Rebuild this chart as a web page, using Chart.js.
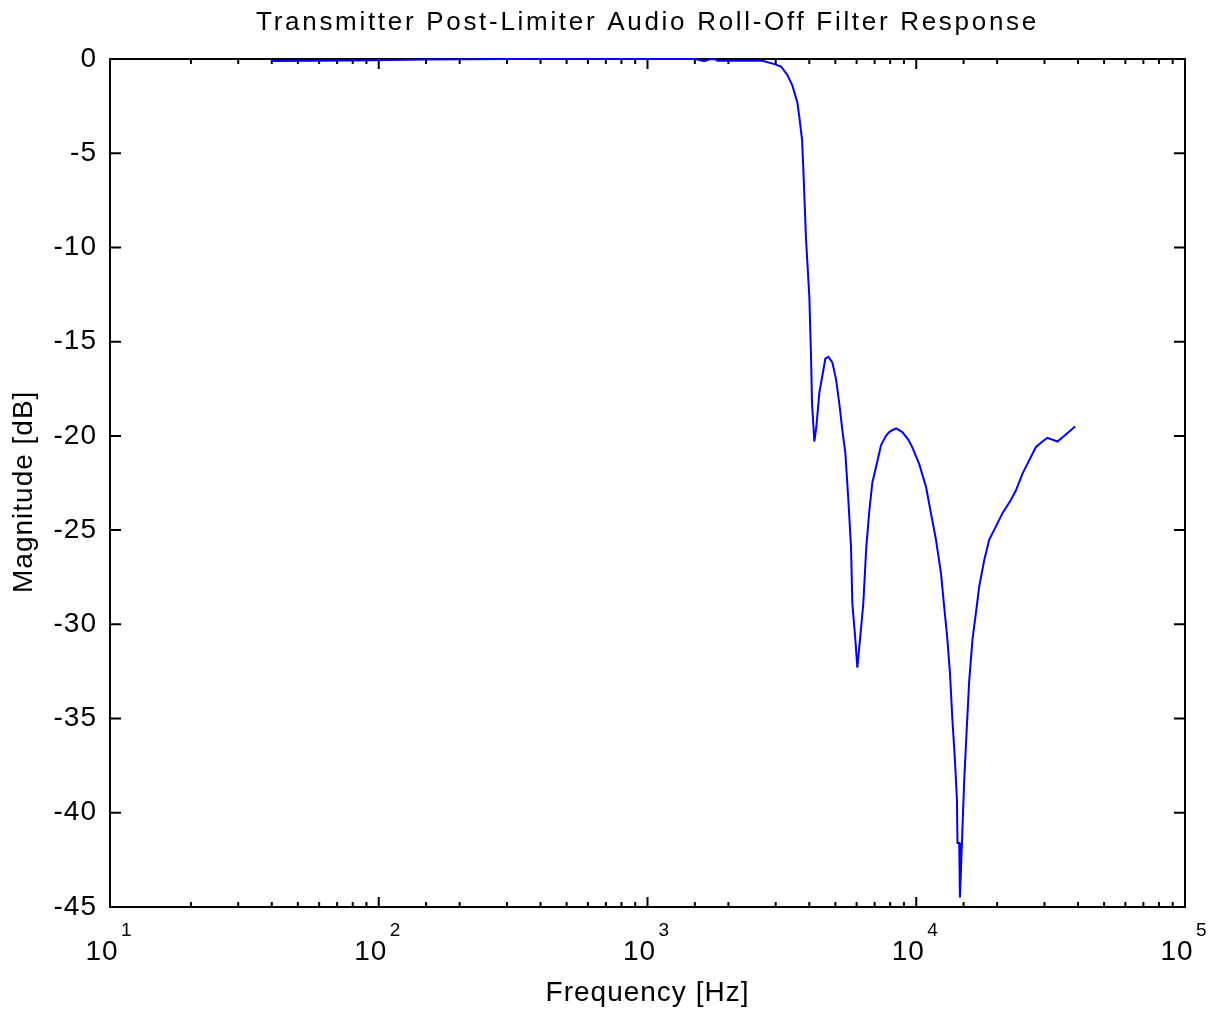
<!DOCTYPE html>
<html>
<head>
    <title>Transmitter Post-Limiter Audio Roll-Off Filter Response</title>
    <style>
        body {
            margin: 0;
            background: #fff;
        }
        #wrap {
            width: 1217px;
            height: 1015px;
        }
    </style>
    <script src="https://cdn.jsdelivr.net/npm/chart.js"></script>
</head>
<body>
    <div id="wrap"><canvas id="filterChart" width="1217" height="1015"></canvas></div>

    <script>
        // values
        const freqHz = [40, 80, 150, 300, 1000, 1500, 1560, 1630, 1700, 1780, 1820, 2200, 2676, 2966,
            3141, 3315, 3459, 3611, 3674, 3760, 3802, 3890, 4001, 4060, 4095, 4177, 4250, 4360,
            4462, 4590, 4710, 4873, 5030, 5174, 5309, 5447, 5589, 5719, 5784, 5934, 6036, 6177,
            6353, 6518, 6687, 6861, 7100, 7393, 7716, 7936, 8143, 8428, 8872, 9339, 9663, 10260,
            10870, 11340, 11840, 12360, 12710, 13040, 13350, 13610, 13930, 14170, 14240, 14450,
            14540, 14790, 15080, 15380, 15740, 16190, 16670, 17150, 17900, 18690, 19790, 20930,
            22490, 23480, 24850, 26310, 27860, 29480, 30770, 33530, 35490, 37590, 39000];
        const magDb = [-0.1, -0.08, -0.03, 0, 0, 0, -0.05, -0.12, -0.02, 0, -0.09, -0.09, -0.09, -0.27,
            -0.4, -0.85, -1.4, -2.3, -3.1, -4.3, -5.9, -9.6, -12.6, -15.8, -18.3, -20.3, -19.5, -17.7,
            -16.9, -15.9, -15.8, -16.1, -17.0, -18.3, -19.7, -20.9, -23.4, -25.9, -28.9, -30.8, -32.3, -30.8,
            -28.9, -25.9, -24.0, -22.5, -21.6, -20.5, -20.0, -19.8, -19.7, -19.6, -19.8, -20.2, -20.6, -21.5,
            -22.7, -24.1, -25.5, -27.3, -29.1, -30.7, -32.6, -34.9, -37.2, -39.3, -41.6, -41.6,
            -44.5, -41.6, -38.3, -35.8, -33.0, -30.8, -29.4, -28.0, -26.6, -25.5, -24.8, -24.1,
            -23.4, -22.9, -22.0, -21.3, -20.6, -20.3, -20.1, -20.3, -20.0, -19.7, -19.5];
        const xRange = [10, 100000];
        const yRange = [-45, 0];
        const yStep = 5;

        const FONT = "'Liberation Sans', Arial, Helvetica, sans-serif";
        const TITLE = 'Transmitter Post-Limiter Audio Roll-Off Filter Response';

        function isDecade(v) {
            const l = Math.log10(v);
            return Math.abs(l - Math.round(l)) < 1e-9;
        }

        // matlab-style box, inward ticks, superscript exponents, title
        const framePlugin = {
            id: 'frame',
            beforeDraw(chart) {
                chart.ctx.letterSpacing = '1px';
            },
            beforeDatasetsDraw(chart) {
                const {ctx, chartArea: a, scales: {x, y}} = chart;
                ctx.save();
                ctx.strokeStyle = '#000';
                ctx.lineWidth = 2;
                ctx.strokeRect(a.left, a.top, a.right - a.left, a.bottom - a.top);
                ctx.beginPath();
                x.ticks.forEach(t => {
                    const px = x.getPixelForValue(t.value);
                    if (px < a.left + 1 || px > a.right - 1) return;
                    const len = isDecade(t.value) ? 10 : 5;
                    ctx.moveTo(px, a.bottom);
                    ctx.lineTo(px, a.bottom - len);
                    ctx.moveTo(px, a.top);
                    ctx.lineTo(px, a.top + len);
                });
                y.ticks.forEach(t => {
                    const py = y.getPixelForValue(t.value);
                    if (py < a.top + 1 || py > a.bottom - 1) return;
                    ctx.moveTo(a.left, py);
                    ctx.lineTo(a.left + 11, py);
                    ctx.moveTo(a.right, py);
                    ctx.lineTo(a.right - 11, py);
                });
                ctx.stroke();
                ctx.restore();
            },
            afterDraw(chart) {
                const {ctx, chartArea: a, scales: {x}} = chart;
                ctx.save();
                ctx.fillStyle = '#000';
                ctx.font = '19px ' + FONT;
                ctx.letterSpacing = '0px';
                ctx.textAlign = 'left';
                ctx.textBaseline = 'alphabetic';
                x.ticks.forEach(t => {
                    if (!isDecade(t.value)) return;
                    const px = x.getPixelForValue(t.value);
                    ctx.fillText(String(Math.round(Math.log10(t.value))), px + 11, 936);
                });
                ctx.font = '26px ' + FONT;
                ctx.letterSpacing = '2.7px';
                ctx.textAlign = 'center';
                ctx.fillText(TITLE, (a.left + a.right) / 2, 30);
                ctx.restore();
            }
        };

        const ctx = document.getElementById('filterChart').getContext('2d');

        const chart = new Chart(ctx, {
            type: 'line',
            data: {
                datasets: [{
                    label: 'Magnitude',
                    data: freqHz.map((f, i) => ({x: f, y: magDb[i]})),
                    borderColor: '#0000ff',
                    borderWidth: 2,
                    pointRadius: 0,
                    tension: 0,
                    fill: false,
                    clip: false
                }]
            },
            options: {
                responsive: false,
                animation: false,
                layout: {
                    padding: {top: 59, right: 32, bottom: 0, left: 0}
                },
                plugins: {
                    legend: {display: false},
                    tooltip: {enabled: false}
                },
                scales: {
                    x: {
                        type: 'logarithmic',
                        min: xRange[0],
                        max: xRange[1],
                        // tick marks are drawn by the plugin; tickLength only spaces the labels
                        grid: {display: false, drawTicks: true, tickLength: 28},
                        border: {display: false},
                        ticks: {
                            autoSkip: false,
                            maxRotation: 0,
                            minRotation: 0,
                            color: '#000',
                            font: {family: FONT, size: 28},
                            padding: 0,
                            labelOffset: -8,
                            callback: (value) => isDecade(value) ? '10' : ''
                        },
                        title: {
                            display: true,
                            text: 'Frequency [Hz]',
                            color: '#000',
                            font: {family: FONT, size: 28},
                            padding: {top: 0, bottom: 5}
                        },
                        afterFit(scale) {
                            scale.height = 108;
                        }
                    },
                    y: {
                        min: yRange[0],
                        max: yRange[1],
                        grid: {display: false, drawTicks: false},
                        border: {display: false},
                        ticks: {
                            stepSize: yStep,
                            color: '#000',
                            font: {family: FONT, size: 28},
                            padding: 13
                        },
                        title: {
                            display: true,
                            text: 'Magnitude [dB]  ',
                            color: '#000',
                            font: {family: FONT, size: 28},
                            padding: {top: 7, bottom: 0}
                        },
                        afterFit(scale) {
                            scale.width = 110;
                        }
                    }
                }
            },
            plugins: [framePlugin]
        });
    </script>
</body>
</html>
